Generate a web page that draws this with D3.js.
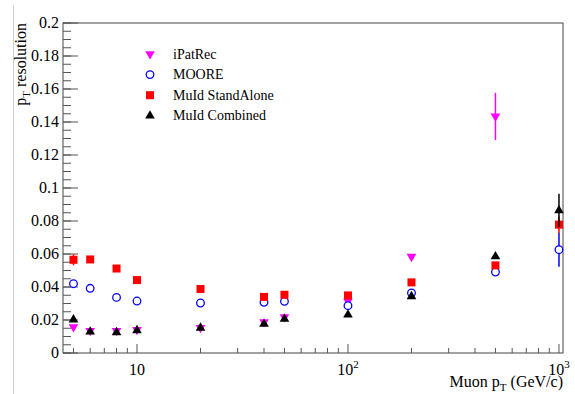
<!DOCTYPE html>
<html>
  <head>
    <title>pT resolution</title>
    <script src="https://cdn.jsdelivr.net/npm/d3@7"></script>
    <style>
      body { margin: 0; background: #fff; }
      text { font-family: 'Liberation Serif', 'Times New Roman', serif; }
    </style>
  </head>
  <body>
    <svg width="575" height="394" id="mainsvg"></svg>
    <script>
      // muon pT points (GeV/c)
      const ptValues = [5, 6, 8, 10, 20, 40, 50, 100, 200, 500, 1000];

      const iPatRec = [0.0158, 0.0135, 0.0135, 0.0141, 0.0153, 0.0188, 0.0218, 0.0313, 0.0584, 0.1434, null];
      const iPatRecErr = [0, 0, 0, 0, 0, 0, 0, 0, 0, 0.0143, 0];
      const moore = [0.0420, 0.0392, 0.0337, 0.0315, 0.0303, 0.0307, 0.0313, 0.0287, 0.0364, 0.0491, 0.0626];
      const mooreErr = [0, 0, 0, 0, 0, 0, 0, 0, 0, 0, 0.0103];
      const muidSA = [0.0565, 0.0567, 0.0512, 0.0442, 0.0388, 0.0340, 0.0353, 0.0349, 0.0428, 0.0531, 0.0778];
      const muidSAErr = [0.0033, 0, 0, 0, 0, 0, 0, 0, 0, 0, 0.005];
      const muidComb = [0.0202, 0.0129, 0.0125, 0.0137, 0.0152, 0.0176, 0.0206, 0.0232, 0.0343, 0.0585, 0.0864];
      const muidCombErr = [0, 0, 0, 0, 0, 0, 0, 0, 0, 0, 0.0101];

      const yTicks = [0, 0.02, 0.04, 0.06, 0.08, 0.1, 0.12, 0.14, 0.16, 0.18, 0.2];
      const xTicks = [10, 100, 1000];
      const xTickLabels = [['10', ''], ['10', '2'], ['10', '3']];

      const svg = d3.select('#mainsvg');
      const margin = {top: 23, right: 12, bottom: 41, left: 63};
      const width = +svg.attr('width');
      const height = +svg.attr('height');
      const innerWidth = width - margin.left - margin.right;
      const innerHeight = height - margin.top - margin.bottom;

      const xScale = d3.scaleLog().domain([4.46, 1045]).range([0, innerWidth]);
      const yScale = d3.scaleLinear().domain([0, 0.2]).range([innerHeight, 0]);

      // faint page border on the left
      svg.append('line')
        .attr('x1', 13.5).attr('x2', 13.5).attr('y1', 5).attr('y2', height)
        .attr('stroke', '#d0d0d0').attr('stroke-width', 1);

      const g = svg.append('g')
        .attr('transform', `translate(${margin.left}, ${margin.top})`);

      // frame
      g.append('rect')
        .attr('x', 0).attr('y', 0)
        .attr('width', innerWidth).attr('height', innerHeight)
        .attr('fill', 'none').attr('stroke', '#444').attr('stroke-width', 1);

      // y axis: major every 0.02, minor every 0.005
      const yMinor = d3.range(0, 0.2001, 0.005);
      g.selectAll('.yminor').data(yMinor).enter().append('line')
        .attr('x1', 0).attr('x2', 8)
        .attr('y1', d => yScale(d)).attr('y2', d => yScale(d))
        .attr('stroke', '#555');
      g.selectAll('.ymajor').data(yTicks).enter().append('line')
        .attr('x1', 0).attr('x2', 15)
        .attr('y1', d => yScale(d)).attr('y2', d => yScale(d))
        .attr('stroke', '#555');
      g.selectAll('.ylab').data(yTicks).enter().append('text')
        .attr('x', -4).attr('y', d => yScale(d) + 5)
        .attr('text-anchor', 'end')
        .attr('font-size', 16)
        .text(d => d === 0 ? '0' : d3.format('~g')(+d.toFixed(2)));

      // x axis: log ticks
      const xMinor = [];
      [1, 10, 100].forEach(dec => {
        for (let k = 1; k <= 9; k++) {
          const v = dec * k;
          if (v >= 4.46 && v <= 1045 && xTicks.indexOf(v) < 0) xMinor.push(v);
        }
      });
      g.selectAll('.xminor').data(xMinor).enter().append('line')
        .attr('x1', d => xScale(d)).attr('x2', d => xScale(d))
        .attr('y1', innerHeight).attr('y2', innerHeight - 5)
        .attr('stroke', '#555');
      g.selectAll('.xmajor').data(xTicks).enter().append('line')
        .attr('x1', d => xScale(d)).attr('x2', d => xScale(d))
        .attr('y1', innerHeight).attr('y2', innerHeight - 9)
        .attr('stroke', '#555');
      const xl = g.selectAll('.xlab').data(xTicks).enter().append('text')
        .attr('x', d => xScale(d)).attr('y', innerHeight + 22)
        .attr('text-anchor', 'middle')
        .attr('font-size', 16);
      xl.append('tspan').text((d, i) => xTickLabels[i][0]);
      xl.append('tspan')
        .attr('dy', -7).attr('font-size', 11)
        .text((d, i) => xTickLabels[i][1]);

      // axis titles
      const xt = g.append('text')
        .attr('x', innerWidth).attr('y', innerHeight + 34)
        .attr('text-anchor', 'end').attr('font-size', 16);
      xt.append('tspan').text('Muon p');
      xt.append('tspan').attr('dy', 4).attr('font-size', 11).text('T');
      xt.append('tspan').attr('dy', -4).text(' (GeV/c)');

      const yt = svg.append('text')
        .attr('transform', `translate(26, ${margin.top}) rotate(-90)`)
        .attr('text-anchor', 'end').attr('font-size', 16);
      yt.append('tspan').text('p');
      yt.append('tspan').attr('dy', 4).attr('font-size', 11).text('T');
      yt.append('tspan').attr('dy', -4).text(' resolution');

      // markers
      const triangle = d3.symbol().type(d3.symbolTriangle).size(40);

      const series = [
        {name: 'iPatRec', values: iPatRec, errs: iPatRecErr, color: '#ff00ff', kind: 'down'},
        {name: 'MOORE', values: moore, errs: mooreErr, color: '#0000ff', kind: 'circle'},
        {name: 'MuId StandAlone', values: muidSA, errs: muidSAErr, color: '#ff0000', kind: 'square'},
        {name: 'MuId Combined', values: muidComb, errs: muidCombErr, color: '#000000', kind: 'up'}
      ];

      const drawMarker = (sel, s) => {
        if (s.kind === 'circle') {
          sel.append('circle').attr('r', 3.8)
            .attr('fill', 'white').attr('stroke', s.color).attr('stroke-width', 1.3);
        } else if (s.kind === 'square') {
          sel.append('rect').attr('x', -4).attr('y', -4).attr('width', 8).attr('height', 8)
            .attr('fill', s.color);
        } else if (s.kind === 'up') {
          sel.append('path').attr('d', triangle()).attr('fill', s.color);
        } else {
          sel.append('path').attr('d', triangle()).attr('transform', 'rotate(180)').attr('fill', s.color);
        }
      };

      series.forEach(s => {
        const pts = ptValues.map((p, i) => ({x: p, y: s.values[i], e: s.errs[i]}))
          .filter(d => d.y !== null);
        g.selectAll(null).data(pts.filter(d => d.e > 0)).enter().append('line')
          .attr('x1', d => xScale(d.x)).attr('x2', d => xScale(d.x))
          .attr('y1', d => yScale(d.y - d.e)).attr('y2', d => yScale(d.y + d.e))
          .attr('stroke', s.color).attr('stroke-width', 1.5);
        g.selectAll(null).data(pts).enter().append('g')
          .attr('transform', d => `translate(${xScale(d.x)}, ${yScale(d.y)})`)
          .each(function() { drawMarker(d3.select(this), s); });
      });

      // legend
      const legend = svg.append('g').attr('transform', 'translate(150, 54)');
      series.forEach((s, i) => {
        const row = legend.append('g').attr('transform', `translate(0, ${i * 20.6})`);
        drawMarker(row, s);
        row.append('text').attr('x', 23).attr('y', 4.5)
          .attr('font-size', 14).text(s.name);
      });
    </script>
  </body>
</html>
